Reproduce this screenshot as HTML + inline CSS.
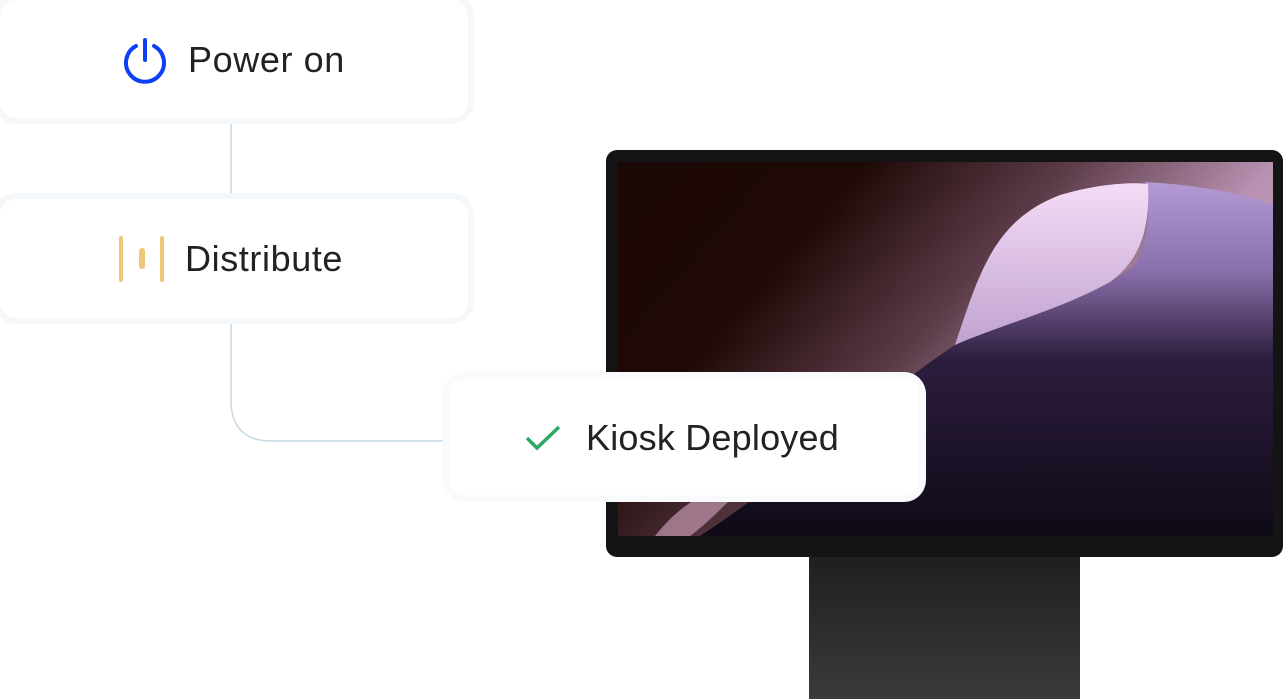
<!DOCTYPE html>
<html><head><style>
body{margin:0;width:1288px;height:699px;background:#fff;position:relative;overflow:hidden;font-family:"Liberation Sans",sans-serif;}
.card{position:absolute;background:#fff;border:6px solid #f5f8fa;border-radius:22px;box-sizing:border-box;}
.t{position:absolute;font-size:36px;color:#222;white-space:nowrap;letter-spacing:0.6px}
</style></head><body>
<svg width="1288" height="699" style="position:absolute;left:0;top:0">
<defs>
<linearGradient id="bg" x1="0" y1="0" x2="1" y2="0.5">
<stop offset="0" stop-color="#1c0806"/><stop offset="0.3" stop-color="#1e0906"/>
<stop offset="0.55" stop-color="#5a3a46"/><stop offset="0.8" stop-color="#b890b0"/><stop offset="1" stop-color="#c8a4c4"/>
</linearGradient>
<linearGradient id="br" x1="0" y1="0" x2="0" y2="1">
<stop offset="0" stop-color="#b49ad4"/><stop offset="0.25" stop-color="#8a70aa"/><stop offset="0.5" stop-color="#2c1d3e"/><stop offset="1" stop-color="#0f0a16"/>
</linearGradient>
<linearGradient id="lv" x1="0" y1="0" x2="0" y2="1">
<stop offset="0" stop-color="#f4dcf6"/><stop offset="1" stop-color="#c0a2d0"/>
</linearGradient>
<linearGradient id="st" x1="0" y1="0" x2="0" y2="1">
<stop offset="0" stop-color="#1e1e1e"/><stop offset="1" stop-color="#3a3a3a"/>
</linearGradient>
</defs>
<rect x="809" y="550" width="271" height="149" fill="url(#st)"/>
<rect x="606" y="150" width="677" height="407" rx="11" fill="#141414"/>
<rect x="618" y="162" width="655" height="374" fill="url(#bg)"/>
<path d="M955 345 C1010 320 1090 300 1135 265 C1150 240 1150 200 1145 182 C1200 185 1250 195 1273 205 L1273 536 L700 536 C800 470 900 380 955 345 Z" fill="url(#br)"/>
<path d="M955 345 C980 270 995 220 1060 195 C1100 183 1135 182 1148 184 C1150 230 1140 260 1110 282 C1060 310 1000 325 955 345 Z" fill="url(#lv)"/>
<path d="M655 536 C680 505 700 495 720 490 L740 490 C720 510 705 525 690 536 Z" fill="#b48aa0" opacity="0.8"/>
<path d="M231 122 V194 M231 322 V400 Q231 441 272 441 H450" stroke="#c6dae4" stroke-width="1.5" fill="none"/>
</svg>
<div class="card" style="left:-6px;top:-6px;width:480px;height:130px"></div>
<div class="card" style="left:-6px;top:193px;width:480px;height:131px"></div>
<div class="card" style="left:443px;top:372px;width:483px;height:130px;border-color:rgba(220,228,235,0.2);border-width:7px;"><div style="position:absolute;inset:0;background:#fff;border-radius:15px"></div></div>
<svg width="50" height="50" style="position:absolute;left:120px;top:36px" viewBox="0 0 50 50">
<path d="M16 10 A19 19 0 1 0 34 10" stroke="#0d3ff5" stroke-width="4" fill="none" stroke-linecap="round"/>
<line x1="25" y1="4" x2="25" y2="24" stroke="#0d3ff5" stroke-width="4" stroke-linecap="round"/>
</svg>
<div class="t" style="left:188px;top:39px">Power on</div>
<svg width="60" height="50" style="position:absolute;left:115px;top:234px">
<line x1="6" y1="4" x2="6" y2="46" stroke="#ecc77a" stroke-width="4" stroke-linecap="round"/>
<line x1="27" y1="17" x2="27" y2="32" stroke="#ecc77a" stroke-width="6" stroke-linecap="round"/>
<line x1="47" y1="4" x2="47" y2="46" stroke="#ecc77a" stroke-width="4" stroke-linecap="round"/>
</svg>
<div class="t" style="left:185px;top:238px">Distribute</div>
<svg width="40" height="30" style="position:absolute;left:524px;top:424px">
<path d="M3 14 L13 24 L35 3" stroke="#2ea865" stroke-width="3.5" fill="none"/>
</svg>
<div class="t" style="left:586px;top:417px;letter-spacing:0.2px">Kiosk Deployed</div>
</body></html>
